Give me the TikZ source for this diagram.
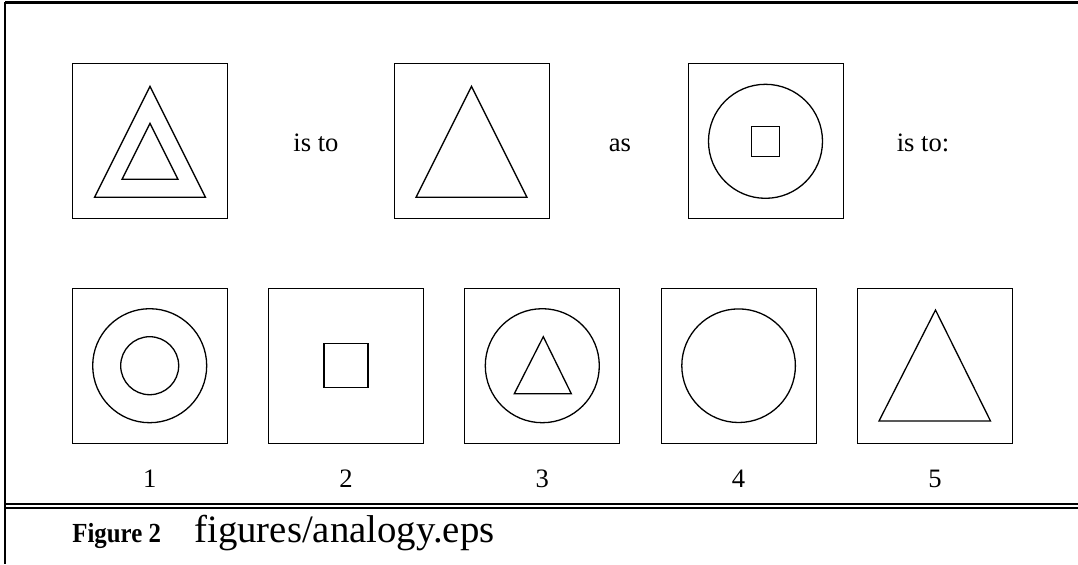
\documentclass[tikz,border=0pt]{standalone}
\usepackage{fontspec}
\setmainfont{Liberation Serif}
\usetikzlibrary{
    positioning,
    calc
}
\tikzset{
  panel/.style = {draw, line width=0.5pt, minimum size=77.5pt,
                  inner sep=0pt, outer sep=0pt},
  fig/.style   = {line width=0.65pt, line join=miter},
  word/.style  = {font=\fontsize{13.3}{16}\selectfont, anchor=base,
                  inner sep=0pt},
  rule/.style  = {line width=1pt}
}

\begin{document}
\begin{tikzpicture}[x=0.5pt, y=-0.5pt]
  \useasboundingbox (0,0) rectangle (1078,564);

  % Frame
  \coordinate (tl) at (5,2.5);
  \coordinate (tr) at (1078,2.5);
  \coordinate (bl) at (5,564);
  \draw[rule, line width=1.4pt] (tr) -- (tl);
  \draw[rule] (5,1.5) -- (bl);
  \draw[rule] (5,504) -- (1078,504);
  \draw[rule] (5,508) -- (1078,508);

  % Question row
  \node[panel] (a) at (150,141.3) {};
  \node[panel] (b) at (471.5,141.3) {};
  \node[panel] (c) at (765.5,141.3) {};

  \draw[fig, shift={(a)}] (0,-55) -- (55.5,56) -- (-55.5,56) -- cycle;
  \draw[fig, shift={(a)}] (0,-18) -- (28,38) -- (-28,38) -- cycle;
  \draw[fig, shift={(b)}] (0,-55) -- (55.5,56) -- (-55.5,56) -- cycle;
  \draw[fig] (c) circle (28.5pt);
  \draw[fig, shift={(c)}] (-14.3,-15) rectangle (14.3,15);

  \node[word] (isto) at (316,151) {is to};
  \node[word] (as) at (620,151) {as};
  \node[word] (istoc) at (923,151) {is to:};

  % Answer row
  \foreach \i/\x in {1/149.7, 2/346, 3/542.3, 4/738.6, 5/935} {
    \node[panel] (p\i) at (\x,365.7) {};
    \node[word] (n\i) at (\x,487) {\i};
  }

  \draw[fig] (p1) circle (28.5pt);
  \draw[fig] (p1) circle (14.5pt);
  \draw[fig, shift={(p2)}] (-22,-22) rectangle (22,22);
  \draw[fig] (p3) circle (28.5pt);
  \draw[fig, shift={(p3)}] (1,-29) -- (29,28) -- (-28,28) -- cycle;
  \draw[fig] (p4) circle (28.4pt);
  \draw[fig, shift={(p5)}] (0.5,-55.7) -- (55.5,55.3) -- (-56,55.3) -- cycle;

  % Caption
  \node[anchor=base west, inner sep=0pt,
        font=\fontsize{13.8}{16}\selectfont\bfseries] (fig) at (72,542)
        {\scalebox{0.9}[1]{Figure 2}};
  \node[anchor=base west, inner sep=0pt,
        font=\fontsize{19.4}{23}\selectfont] (file) at (194,542) {figures/analogy.eps};
\end{tikzpicture}
\end{document}
